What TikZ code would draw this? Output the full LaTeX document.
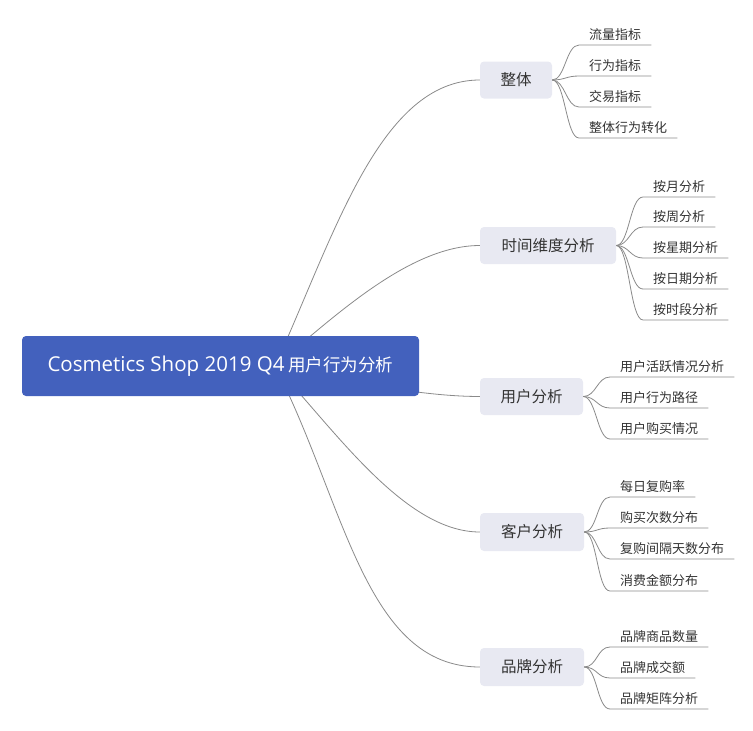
\documentclass[tikz,border=0pt]{standalone}
\usepackage{fontspec}
\setmainfont{Noto Sans CJK SC}
\newfontfamily\latinfont{Open Sans}
\usetikzlibrary{calc,backgrounds}
\definecolor{rootblue}{HTML}{4361BD}
\definecolor{topicfill}{HTML}{E8E9F2}
\definecolor{linegray}{HTML}{8A8A8A}
\definecolor{txt}{HTML}{333333}
\tikzset{
 rootbox/.style={fill=rootblue, rounded corners=4pt, text=white, font=\fontsize{17.5}{21}\selectfont, inner sep=0pt, minimum width=397pt, minimum height=60pt},
 topic/.style={fill=topicfill, rounded corners=4pt, text=txt, font=\fontsize{15.5}{19}\selectfont, inner sep=0pt, minimum height=37pt},
 leafnode/.style={text=txt, font=\fontsize{13}{16}\selectfont, inner sep=0pt, anchor=base west},
 conn/.style={draw=linegray, line width=0.8pt},
}
\newcommand\leafitem[5]{%
 \coordinate (#1-l) at (#3,#4);
 \node[leafnode] (#1) at (#3+10,#4-6) {#5};
 \draw[conn] (#2.east) .. controls +(13,0) and +(-13,0) .. (#1-l) -- ($(#1-l -| #1.east)+(10,0)$);
}
\begin{document}
\begin{tikzpicture}[x=1pt,y=-1pt]
\useasboundingbox (0,0) rectangle (753,731);
\node[rootbox] (root) at (220.5,366) {{\latinfont\fontsize{20.5}{24}\selectfont Cosmetics Shop 2019 Q4} 用户行为分析};
\node[topic, minimum width=72pt] (t1) at (516,80) {整体};
\node[topic, minimum width=136pt] (t2) at (548,245.5) {时间维度分析};
\node[topic, minimum width=103pt] (t3) at (531.5,396.5) {用户分析};
\node[topic, minimum width=104pt, minimum height=38pt] (t4) at (532,532) {客户分析};
\node[topic, minimum width=104pt, minimum height=38pt] (t5) at (532,667) {品牌分析};
\coordinate (hub) at (275,366);
\begin{scope}[on background layer]
\draw[conn] (hub) .. controls +(60,-132) and +(-100,0) .. (t1.west);
\draw[conn] (hub) .. controls +(60,-50) and +(-70,0) .. (t2.west);
\draw[conn] (hub) .. controls +(65,14) and +(-60,0) .. (t3.west);
\draw[conn] (hub) .. controls +(60,64) and +(-75,0) .. (t4.west);
\draw[conn] (hub) .. controls +(70,137) and +(-115,0) .. (t5.west);
\end{scope}
\leafitem{a1}{t1}{579}{45}{流量指标}
\leafitem{a2}{t1}{579}{76}{行为指标}
\leafitem{a3}{t1}{579}{107}{交易指标}
\leafitem{a4}{t1}{579}{138}{整体行为转化}
\leafitem{b1}{t2}{643}{197}{按月分析}
\leafitem{b2}{t2}{643}{227}{按周分析}
\leafitem{b3}{t2}{643}{258}{按星期分析}
\leafitem{b4}{t2}{643}{289}{按日期分析}
\leafitem{b5}{t2}{643}{320}{按时段分析}
\leafitem{c1}{t3}{610}{377}{用户活跃情况分析}
\leafitem{c2}{t3}{610}{408}{用户行为路径}
\leafitem{c3}{t3}{610}{439}{用户购买情况}
\leafitem{d1}{t4}{610}{497}{每日复购率}
\leafitem{d2}{t4}{610}{528}{购买次数分布}
\leafitem{d3}{t4}{610}{559}{复购间隔天数分布}
\leafitem{d4}{t4}{610}{591}{消费金额分布}
\leafitem{e1}{t5}{610}{647}{品牌商品数量}
\leafitem{e2}{t5}{610}{678}{品牌成交额}
\leafitem{e3}{t5}{610}{709}{品牌矩阵分析}
\end{tikzpicture}
\end{document}
